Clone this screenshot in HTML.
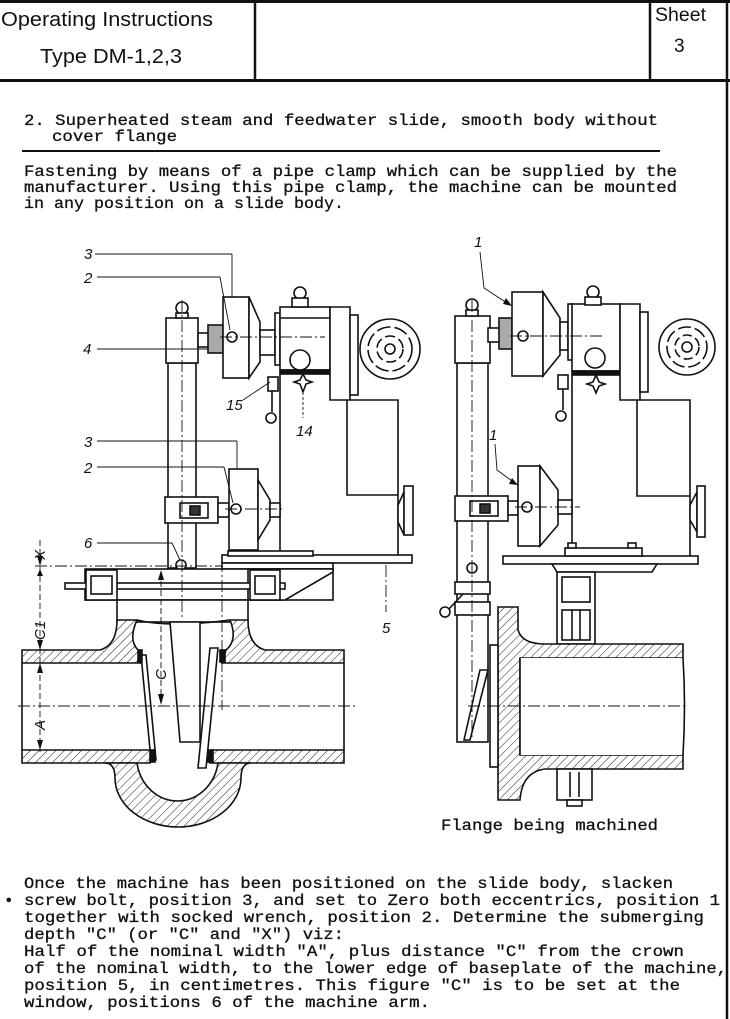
<!DOCTYPE html>
<html><head><meta charset="utf-8"><style>
html,body{margin:0;padding:0;background:#fff;}
svg{display:block;}
.m{font-family:"Liberation Mono",monospace;font-size:16px;fill:#111;}
.s{font-family:"Liberation Sans",sans-serif;fill:#111;}
.l{font-family:"Liberation Sans",sans-serif;font-style:italic;font-size:15px;fill:#111;}
</style></head><body>
<svg width="730" height="1019" viewBox="0 0 730 1019" xmlns="http://www.w3.org/2000/svg">
<defs>
<pattern id="h" patternUnits="userSpaceOnUse" width="6" height="6" patternTransform="rotate(45)">
<rect width="6" height="6" fill="#fff"/><line x1="0" y1="0" x2="0" y2="6" stroke="#222" stroke-width="1"/>
</pattern>
</defs>
<g stroke="#111" fill="none">
<line x1="0" y1="1.5" x2="730" y2="1.5" stroke-width="3"/>
<line x1="0" y1="80.5" x2="730" y2="80.5" stroke-width="3"/>
<line x1="255" y1="0" x2="255" y2="80" stroke-width="2.5"/>
<line x1="650" y1="0" x2="650" y2="80" stroke-width="2.5"/>
<line x1="727" y1="0" x2="727" y2="1019" stroke-width="2.5"/>
</g>
<text class="s" x="1" y="26" font-size="20" textLength="212" lengthAdjust="spacingAndGlyphs">Operating Instructions</text>
<text class="s" x="40" y="63" font-size="20" textLength="142" lengthAdjust="spacingAndGlyphs">Type DM-1,2,3</text>
<text class="s" x="655" y="21" font-size="19" textLength="51" lengthAdjust="spacingAndGlyphs">Sheet</text>
<text class="s" x="674" y="52" font-size="19">3</text>

<g stroke="#111" stroke-width="0.3">
<text class="m" x="24" y="125" textLength="634" lengthAdjust="spacingAndGlyphs">2. Superheated steam and feedwater slide, smooth body without</text>
<text class="m" x="52" y="141" textLength="125" lengthAdjust="spacingAndGlyphs">cover flange</text>
<text class="m" x="24" y="176" textLength="653" lengthAdjust="spacingAndGlyphs">Fastening by means of a pipe clamp which can be supplied by the</text>
<text class="m" x="24" y="192" textLength="653" lengthAdjust="spacingAndGlyphs">manufacturer. Using this pipe clamp, the machine can be mounted</text>
<text class="m" x="24" y="208" textLength="320" lengthAdjust="spacingAndGlyphs">in any position on a slide body.</text>
</g>
<line x1="22" y1="151" x2="660" y2="151" stroke="#111" stroke-width="2"/>

<!-- LEFT DRAWING -->
<g stroke="#111" stroke-width="1.6" fill="#fff">
<rect x="168" y="363" width="28" height="205"/>
<rect x="166" y="318" width="32" height="45"/>
<circle cx="182" cy="308" r="6"/><rect x="176" y="313" width="12" height="5"/>
<rect x="198" y="333" width="12" height="14"/>
<rect x="208" y="325" width="15" height="28" fill="#aaa"/>
<rect x="223" y="297" width="26" height="81"/>
<polygon points="249,297 260,322 260,362 249,378"/>
<circle cx="232" cy="337" r="5"/>
<rect x="260" y="330" width="15" height="25"/>
<rect x="275" y="313" width="5" height="52"/>
<rect x="280" y="307" width="50" height="63"/>
<line x1="280" y1="318" x2="330" y2="318"/>
<circle cx="300" cy="293" r="6"/><rect x="292" y="298" width="16" height="9"/>
<rect x="280" y="370" width="50" height="4" fill="#111"/>
<circle cx="300" cy="360" r="10"/>
<path d="M303 374 L306 380 L312 382 L306 384 L303 392 L300 384 L294 382 L300 380 Z"/>
<polygon points="330,307 350,307 350,400 330,400"/>
<rect x="350" y="315" width="8" height="80"/>
<circle cx="390" cy="349" r="30"/>
<circle cx="390" cy="349" r="22" fill="none" stroke-dasharray="14,4"/>
<circle cx="390" cy="349" r="13" fill="none" stroke-dasharray="10,4"/>
<circle cx="390" cy="349" r="5"/>
<line x1="280" y1="374" x2="280" y2="552"/>
<polyline points="350,400 398,400 398,555" fill="none"/>
<polyline points="347,400 347,495 398,495" fill="none"/>
<path d="M398 505 L404 492 L404 535 L398 522 Z"/>
<rect x="404" y="486" width="9" height="49"/>
<rect x="268" y="377" width="10" height="14"/>
<line x1="272" y1="391" x2="272" y2="412"/>
<circle cx="271" cy="418" r="5"/>
<rect x="165" y="497" width="53" height="26"/>
<rect x="180" y="503" width="28" height="15"/>
<rect x="190" y="506" width="10" height="9" fill="#333"/>
<rect x="218" y="503" width="11" height="14"/>
<rect x="229" y="469" width="29" height="81"/>
<polygon points="258,480 270,500 270,520 258,540"/>
<circle cx="236" cy="509" r="5"/>
<rect x="270" y="503" width="10" height="14"/>
<rect x="222" y="555" width="190" height="8"/>
<rect x="228" y="551" width="85" height="5"/>
<rect x="222" y="563" width="111" height="6"/>
<circle cx="181" cy="565" r="5"/>
<rect x="85" y="569" width="248" height="31"/>
<polygon points="333,569 333,572 285,600 248,600 248,569" />
<rect x="65" y="583" width="220" height="6"/>
<rect x="86" y="570" width="31" height="30"/>
<rect x="91" y="576" width="21" height="18"/>
<rect x="250" y="570" width="30" height="30"/>
<rect x="255" y="576" width="20" height="18"/>
<rect x="117" y="600" width="131" height="22"/>
</g>
<g stroke="#111" stroke-width="1.6">
<path d="M22 650 L100 650 Q117 645 117 620 L137 620 Q128 640 138 650 L141 663 L22 663 Z" fill="url(#h)"/>
<path d="M344 650 L265 650 Q248 645 248 620 L230 620 Q238 640 226 650 L222 663 L344 663 Z" fill="url(#h)"/>
<path d="M22 750 L152 750 L150 763 L22 763 Z" fill="url(#h)"/>
<path d="M344 750 L212 750 L210 763 L344 763 Z" fill="url(#h)"/>
<path d="M105 763 Q115 763 115 778 A63 49 0 0 0 241 778 Q241 763 251 763 L218 763 A41 45 0 0 1 137 763 Z" fill="url(#h)"/>
<line x1="22" y1="663" x2="22" y2="750"/>
<line x1="344" y1="663" x2="344" y2="750"/>
<path d="M137 620 Q170 628 230 620" fill="none"/>
<polygon points="141,655 146,655 156,760 151,760" fill="#fff"/>
<polygon points="170,622 200,622 200,742 180,742" fill="#fff"/>
<polygon points="210,648 218,648 206,768 198,768" fill="#fff"/>
<rect x="138" y="650" width="4" height="12" fill="#111"/>
<rect x="150" y="750" width="5" height="12" fill="#111"/>
<rect x="220" y="650" width="5" height="12" fill="#111"/>
<rect x="208" y="750" width="5" height="12" fill="#111"/>
</g>
<g stroke="#111" stroke-width="0.9" fill="none" stroke-dasharray="12,3,2,3">
<line x1="182" y1="300" x2="182" y2="620"/>
<line x1="222" y1="560" x2="222" y2="710"/>
<line x1="18" y1="706" x2="358" y2="706"/>
<line x1="220" y1="337" x2="325" y2="337"/>
<line x1="225" y1="509" x2="285" y2="509"/>
<line x1="35" y1="566" x2="222" y2="566"/>
<line x1="386" y1="565" x2="386" y2="612"/>
</g>
<g stroke="#111" stroke-width="0.9" fill="none">
<line x1="40" y1="540" x2="40" y2="752" stroke-dasharray="6,3"/>
<line x1="161" y1="572" x2="161" y2="700" stroke-dasharray="6,3"/>
<line x1="95" y1="254" x2="232" y2="254"/><line x1="232" y1="254" x2="232" y2="297"/>
<line x1="97" y1="277" x2="220" y2="277"/><line x1="220" y1="277" x2="230" y2="330"/>
<line x1="97" y1="349" x2="208" y2="349"/>
<line x1="97" y1="441" x2="237" y2="441"/><line x1="237" y1="441" x2="237" y2="469"/>
<line x1="97" y1="467" x2="224" y2="467"/><line x1="224" y1="467" x2="233" y2="503"/>
<line x1="97" y1="543" x2="172" y2="543"/><line x1="172" y1="543" x2="180" y2="560"/>
<path d="M243 400 Q258 390 270 382"/>
<line x1="303" y1="392" x2="303" y2="418" stroke-dasharray="3,2"/>
</g>
<g fill="#111">
<polygon points="37,556 43,556 40,566"/><polygon points="37,576 43,576 40,569"/>
<polygon points="37,640 43,640 40,650"/><polygon points="37,673 43,673 40,663"/>
<polygon points="37,740 43,740 40,750"/>
<polygon points="158,580 164,580 161,570"/><polygon points="158,694 164,694 161,705"/>
</g>
<g class="l">
<text x="84" y="259">3</text><text x="84" y="283">2</text><text x="83" y="354">4</text>
<text x="226" y="410">15</text><text x="296" y="436">14</text>
<text x="84" y="447">3</text><text x="84" y="473">2</text><text x="84" y="548">6</text>
<text x="382" y="633">5</text>
<text transform="translate(45,560) rotate(-90)">X</text>
<text transform="translate(45,640) rotate(-90)">C1</text>
<text transform="translate(166,680) rotate(-90)">C</text>
<text transform="translate(45,730) rotate(-90)">A</text>
</g>

<!-- RIGHT DRAWING -->
<g stroke="#111" stroke-width="1.6" fill="#fff">
<rect x="457" y="363" width="31" height="379"/>
<rect x="455" y="316" width="35" height="47"/>
<circle cx="472" cy="305" r="6"/><rect x="466" y="310" width="12" height="6"/>
<rect x="488" y="328" width="12" height="14"/>
<rect x="499" y="318" width="13" height="31" fill="#aaa"/>
<rect x="512" y="292" width="31" height="84"/>
<polygon points="543,292 560,318 560,355 543,376"/>
<circle cx="523" cy="336" r="5"/>
<rect x="560" y="322" width="8" height="28"/>
<rect x="568" y="304" width="5" height="56"/>
<rect x="572" y="304" width="48" height="67"/>
<circle cx="593" cy="292" r="6"/><rect x="585" y="297" width="16" height="8"/>
<rect x="572" y="371" width="48" height="4" fill="#111"/>
<circle cx="595" cy="358" r="10"/>
<path d="M596 375 L599 382 L605 384 L599 386 L596 393 L593 386 L587 384 L593 382 Z"/>
<polygon points="620,304 640,304 640,400 620,400"/>
<rect x="640" y="312" width="8" height="80"/>
<circle cx="687" cy="347" r="28"/>
<circle cx="687" cy="347" r="20" fill="none" stroke-dasharray="13,4"/>
<circle cx="687" cy="347" r="12" fill="none" stroke-dasharray="9,4"/>
<circle cx="687" cy="347" r="5"/>
<line x1="572" y1="375" x2="572" y2="556"/>
<polyline points="640,400 690,400 690,556" fill="none"/>
<polyline points="637,400 637,496 690,496" fill="none"/>
<path d="M690 505 L697 492 L697 532 L690 520 Z"/>
<rect x="697" y="486" width="8" height="51"/>
<rect x="558" y="375" width="10" height="14"/>
<line x1="563" y1="389" x2="563" y2="410"/>
<circle cx="561" cy="416" r="5"/>
<rect x="455" y="496" width="53" height="25"/>
<rect x="470" y="501" width="28" height="15"/>
<rect x="480" y="504" width="10" height="9" fill="#333"/>
<rect x="508" y="501" width="10" height="14"/>
<rect x="518" y="466" width="22" height="80"/>
<polygon points="540,466 558,490 558,525 540,546"/>
<circle cx="527" cy="507" r="5"/>
<rect x="558" y="500" width="14" height="14"/>
<rect x="503" y="556" width="195" height="8"/>
<rect x="565" y="548" width="77" height="8"/>
<rect x="568" y="543" width="8" height="5"/><rect x="628" y="543" width="8" height="5"/>
<polygon points="552,564 657,564 652,572 557,572"/>
<rect x="557" y="572" width="38" height="72"/>
<rect x="562" y="577" width="28" height="25"/>
<rect x="562" y="610" width="28" height="30"/>
<line x1="572" y1="610" x2="572" y2="640"/><line x1="580" y1="610" x2="580" y2="640"/>
<circle cx="472" cy="568" r="5"/>
<rect x="455" y="582" width="35" height="12"/>
<rect x="455" y="602" width="35" height="13"/>
<line x1="463" y1="594" x2="448" y2="610"/>
<circle cx="445" cy="612" r="5"/>
<path d="M498 607 L518 607 L518 630 Q522 644 545 644 L683 644 L683 658 L520 658 L520 755 L683 755 L683 769 L545 769 Q522 772 520 800 L498 800 Z" fill="url(#h)"/>
<rect x="520" y="658" width="163" height="97" fill="#fff" stroke="none"/>
<line x1="520" y1="658" x2="520" y2="755"/>
<path d="M683 658 Q686 705 683 755" fill="none"/>
<rect x="490" y="645" width="8" height="122"/>
<polygon points="480,670 488,670 470,740 464,740"/>
<rect x="557" y="769" width="35" height="31"/>
<line x1="570" y1="772" x2="570" y2="797"/><line x1="579" y1="772" x2="579" y2="797"/>
<rect x="567" y="800" width="15" height="6"/>
</g>
<g stroke="#111" stroke-width="0.9" fill="none" stroke-dasharray="12,3,2,3">
<line x1="472" y1="300" x2="472" y2="740"/>
<line x1="468" y1="706" x2="685" y2="706"/>
<line x1="510" y1="336" x2="605" y2="336"/>
<line x1="515" y1="507" x2="580" y2="507"/>
</g>
<g stroke="#111" stroke-width="0.9" fill="none">
<path d="M480 252 L484 288 L510 305"/>
<path d="M495 444 L497 470 L516 484"/>
</g>
<g fill="#111">
<polygon points="512,306 503,304 506,298"/>
<polygon points="518,485 509,484 512,478"/>
</g>
<g class="l"><text x="474" y="247">1</text><text x="489" y="440">1</text></g>

<g stroke="#111" stroke-width="0.3">
<text class="m" x="441" y="830" textLength="217" lengthAdjust="spacingAndGlyphs">Flange being machined</text>
<text class="m" x="4" y="905" font-size="10">•</text>
<text class="m" x="24" y="888" textLength="649" lengthAdjust="spacingAndGlyphs">Once the machine has been positioned on the slide body, slacken</text>
<text class="m" x="24" y="905" textLength="696" lengthAdjust="spacingAndGlyphs">screw bolt, position 3, and set to Zero both eccentrics, position 1</text>
<text class="m" x="24" y="922" textLength="680" lengthAdjust="spacingAndGlyphs">together with socked wrench, position 2. Determine the submerging</text>
<text class="m" x="24" y="939" textLength="320" lengthAdjust="spacingAndGlyphs">depth "C" (or "C" and "X") viz:</text>
<text class="m" x="24" y="956" textLength="660" lengthAdjust="spacingAndGlyphs">Half of the nominal width "A", plus distance "C" from the crown</text>
<text class="m" x="24" y="973" textLength="703" lengthAdjust="spacingAndGlyphs">of the nominal width, to the lower edge of baseplate of the machine,</text>
<text class="m" x="24" y="990" textLength="656" lengthAdjust="spacingAndGlyphs">position 5, in centimetres. This figure "C" is to be set at the</text>
<text class="m" x="24" y="1007" textLength="406" lengthAdjust="spacingAndGlyphs">window, positions 6 of the machine arm.</text>
</g>
</svg>
</body></html>
